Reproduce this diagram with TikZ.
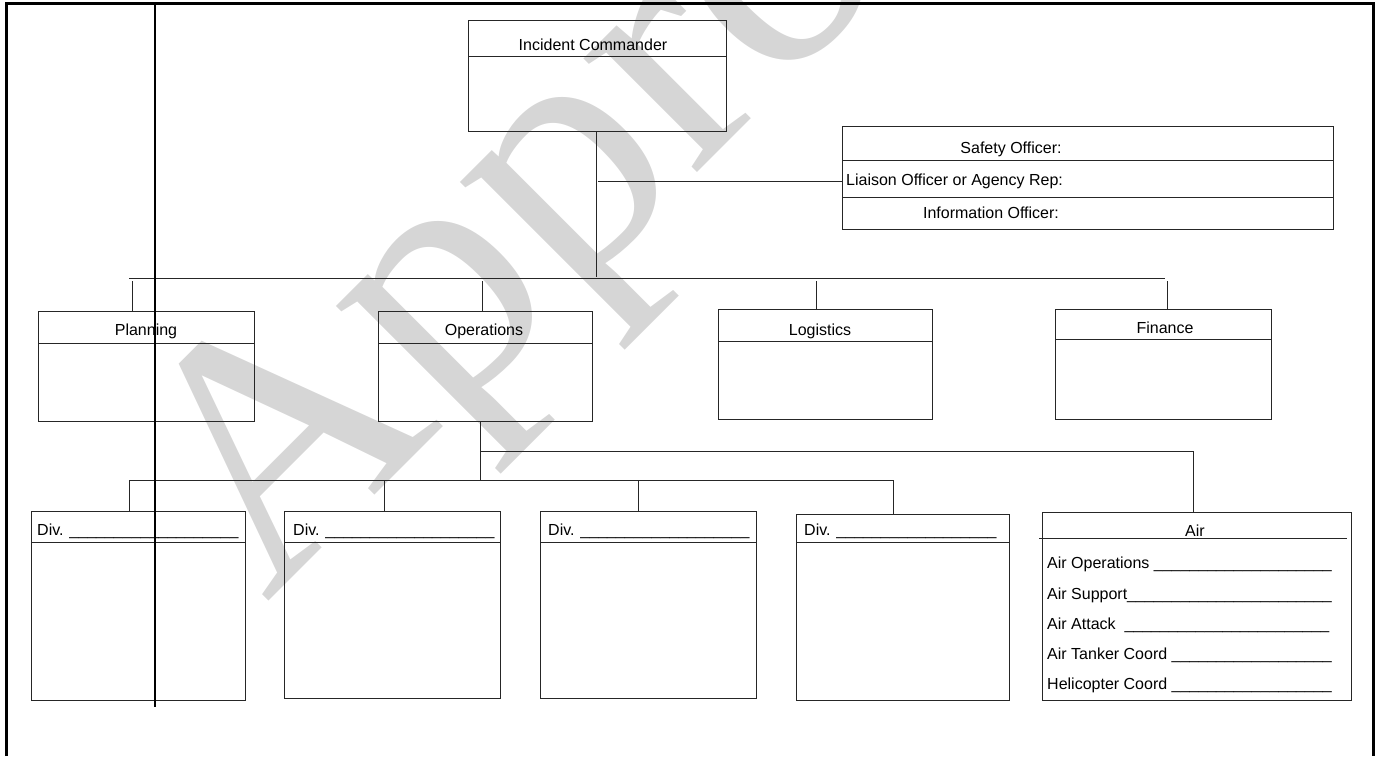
\documentclass[tikz,border=0pt]{standalone}
\usepackage{fontspec}
\setmainfont{Liberation Sans}
\newfontfamily\wmfont{Liberation Serif}
\begin{document}
\begin{tikzpicture}[x=1pt,y=-1pt,
  box/.style={draw=black!85, line width=0.9pt, rectangle, anchor=north west, inner sep=0pt},
  conn/.style={draw=black!85, line width=0.9pt},
  lbl/.style={inner sep=0pt, font=\fontsize{16}{19}\selectfont},
  frame/.style={draw=black, line width=3pt},
  wm/.style={inner sep=0pt, text=black!16, font=\wmfont\fontsize{350}{350}\selectfont}]
\useasboundingbox (0,0) rectangle (1377,756);
% watermark
\begin{scope}
\clip (0,0) rectangle (1377,756);
\node[wm, rotate=45, anchor=base west] (wmark) at (266,604) {Appro};
\end{scope}
% frame
\draw[frame] (6,756) -- (6,3) -- (1373,3) -- (1373,756);
% boxes
\node[box, minimum width=258pt, minimum height=111pt] (ic) at (468,20) {};
\node[box, minimum width=491pt, minimum height=103pt] (off) at (842,126) {};
\node[box, minimum width=216pt, minimum height=110pt] (plan) at (38,311) {};
\node[box, minimum width=214pt, minimum height=110pt] (ops) at (378,311) {};
\node[box, minimum width=214pt, minimum height=110pt] (log) at (718,309) {};
\node[box, minimum width=216pt, minimum height=110pt] (fin) at (1055,309) {};
\node[box, minimum width=214pt, minimum height=189pt] (div1) at (31,511) {};
\node[box, minimum width=216pt, minimum height=187pt] (div2) at (284,511) {};
\node[box, minimum width=216pt, minimum height=187pt] (div3) at (540,511) {};
\node[box, minimum width=213pt, minimum height=186pt] (div4) at (796,514) {};
\node[box, minimum width=309pt, minimum height=188pt] (air) at (1042,512) {};
% header dividers
\draw[conn] (ic.west |- 0,56) -- (ic.east |- 0,56);
\draw[conn] (off.west |- 0,160) -- (off.east |- 0,160);
\draw[conn] (off.west |- 0,197) -- (off.east |- 0,197);
\draw[conn] (plan.west |- 0,343) -- (plan.east |- 0,343);
\draw[conn] (ops.west |- 0,343) -- (ops.east |- 0,343);
\draw[conn] (log.west |- 0,341) -- (log.east |- 0,341);
\draw[conn] (fin.west |- 0,339) -- (fin.east |- 0,339);
\draw[conn] (div1.west |- 0,542) -- (div1.east |- 0,542);
\draw[conn] (div2.west |- 0,542) -- (div2.east |- 0,542);
\draw[conn] (div3.west |- 0,542) -- (div3.east |- 0,542);
\draw[conn] (div4.west |- 0,542) -- (div4.east |- 0,542);
\draw[conn] (1039,538) -- (1347,538);
% labels
\node[lbl, anchor=base] (tic) at (593,50) {Incident Commander};
\node[lbl, anchor=base] (tsafe) at (1011,153) {Safety Officer:};
\node[lbl, anchor=base west] (tliai) at (846,185) {Liaison Officer or Agency Rep:};
\node[lbl, anchor=base] (tinfo) at (991,218) {Information Officer:};
\node[lbl, anchor=base] (tplan) at (146,335) {Planning};
\node[lbl, anchor=base] (tops) at (484,335) {Operations};
\node[lbl, anchor=base] (tlog) at (820,335) {Logistics};
\node[lbl, anchor=base] (tfin) at (1165,333) {Finance};
\node[lbl, anchor=base west] (td1) at (37,535) {Div. \_\_\_\_\_\_\_\_\_\_\_\_\_\_\_\_\_\_\_};
\node[lbl, anchor=base west] (td2) at (293,535) {Div. \_\_\_\_\_\_\_\_\_\_\_\_\_\_\_\_\_\_\_};
\node[lbl, anchor=base west] (td3) at (548,535) {Div. \_\_\_\_\_\_\_\_\_\_\_\_\_\_\_\_\_\_\_};
\node[lbl, anchor=base west] (td4) at (804,535) {Div. \_\_\_\_\_\_\_\_\_\_\_\_\_\_\_\_\_\_};
\node[lbl, anchor=base] (tair) at (1195,536) {Air};
\node[lbl, anchor=base west] (ta1) at (1047,568) {Air Operations \_\_\_\_\_\_\_\_\_\_\_\_\_\_\_\_\_\_\_\_};
\node[lbl, anchor=base west] (ta2) at (1047,599) {Air Support\_\_\_\_\_\_\_\_\_\_\_\_\_\_\_\_\_\_\_\_\_\_\_};
\node[lbl, anchor=base west] (ta3) at (1047,629) {Air Attack\ \ \_\_\_\_\_\_\_\_\_\_\_\_\_\_\_\_\_\_\_\_\_\_\_};
\node[lbl, anchor=base west] (ta4) at (1047,659) {Air Tanker Coord \_\_\_\_\_\_\_\_\_\_\_\_\_\_\_\_\_\_};
\node[lbl, anchor=base west] (ta5) at (1047,689) {Helicopter Coord \_\_\_\_\_\_\_\_\_\_\_\_\_\_\_\_\_\_};
% connectors
\coordinate (b1l) at (129,278);
\coordinate (b1r) at (1165,278);
\draw[conn] (ic.south -| 596,0) -- (596,277);
\coordinate (jo) at (598,181);
\draw[conn] (jo) -- (jo -| off.west);
\draw[conn] (b1l) -- (b1r);
\draw[conn] (132,281) -- (132,0 |- plan.north);
\draw[conn] (482,281) -- (482,0 |- ops.north);
\draw[conn] (816,281) -- (816,0 |- log.north);
\draw[conn] (1167,281) -- (1167,0 |- fin.north);
\coordinate (opsb) at (480,480);
\draw[conn] (ops.south -| opsb) -- (opsb);
\coordinate (ja) at (480,451);
\coordinate (jar) at (1193,451);
\draw[conn] (ja) -- (jar) -- (jar |- air.north);
\coordinate (b2l) at (129,480);
\coordinate (b2r) at (893,480);
\draw[conn] (b2l) -- (b2r);
\draw[conn] (b2l) -- (b2l |- div1.north);
\draw[conn] (384,480) -- (384,0 |- div2.north);
\draw[conn] (638,480) -- (638,0 |- div3.north);
\draw[conn] (b2r) -- (b2r |- div4.north);
% thick vertical line
\coordinate (vt) at (155,3);
\coordinate (vb) at (155,707);
\draw[draw=black, line width=2.5pt] (vt) -- (vb);
\end{tikzpicture}
\end{document}
